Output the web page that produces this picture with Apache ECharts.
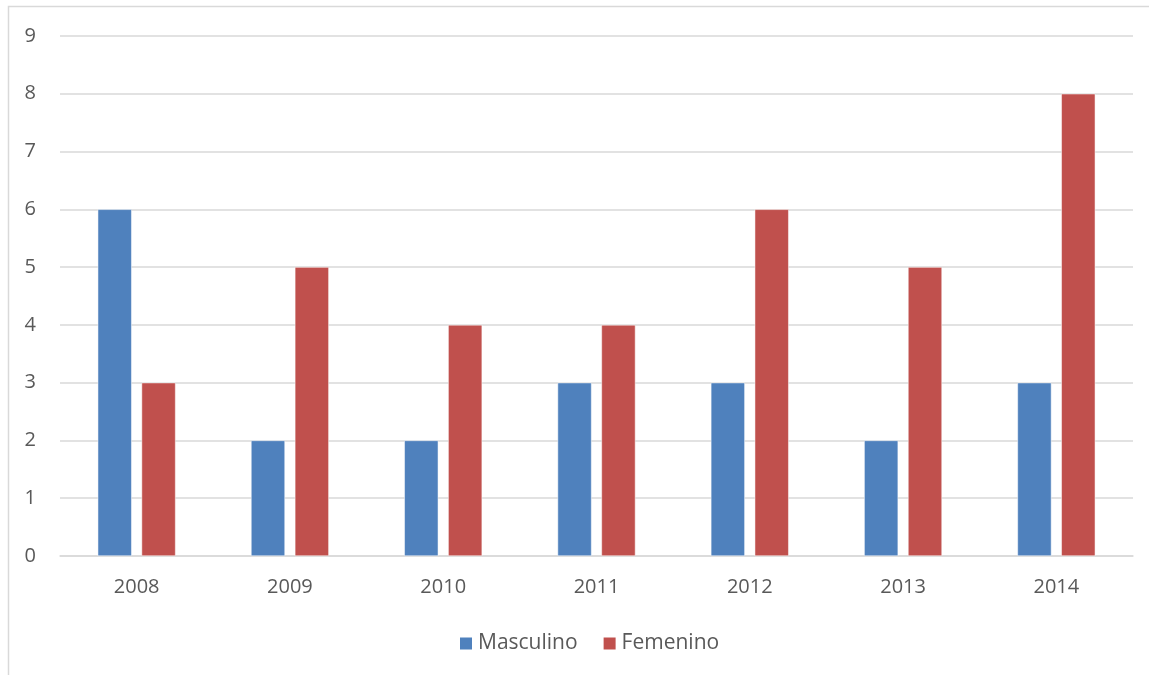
<!DOCTYPE html>
<html>
<head>
<meta charset="utf-8">
<script src="https://cdn.jsdelivr.net/npm/echarts@6/dist/echarts.min.js"></script>
<style>html,body{margin:0;padding:0;background:#fff;}#c{width:1149px;height:675px;}</style>
</head>
<body>
<div id="c"></div>
<script>
const categories = ['2008','2009','2010','2011','2012','2013','2014'];
const masculino = [6,2,2,3,3,2,3];
const femenino = [3,5,4,4,6,5,8];
const yTicks = {min:0, max:9, interval:1};

const chart = echarts.init(document.getElementById('c'));
const font = '"Open Sans", "Liberation Sans", sans-serif';
chart.setOption({
  animation:false,
  backgroundColor:'#fff',
  graphic:[{type:'rect',shape:{x:8.5,y:6.5,width:1200,height:700},style:{fill:'none',stroke:'#D9D9D9',lineWidth:1.5},silent:true}],
  grid:{left:60,right:16,top:36,bottom:119,containLabel:false},
  legend:{top:628,left:453,itemWidth:14,itemHeight:14,itemGap:24,icon:'rect',
    textStyle:{color:'#595959',fontSize:21,fontFamily:font},data:['Masculino','Femenino']},
  xAxis:{type:'category',data:categories,
    axisLine:{lineStyle:{color:'#D9D9D9',width:1.5}},axisTick:{show:false},
    axisLabel:{color:'#595959',fontSize:20,fontFamily:font,margin:21}},
  yAxis:{type:'value',min:yTicks.min,max:yTicks.max,interval:yTicks.interval,
    axisLine:{show:false},axisTick:{show:false},
    splitLine:{lineStyle:{color:'#D9D9D9',width:1.5}},
    axisLabel:{color:'#595959',fontSize:20,fontFamily:font,margin:24}},
  series:[
    {name:'Masculino',type:'bar',data:masculino,barWidth:34,barGap:'29%',
     itemStyle:{color:'#4F81BD',borderColor:'#ffffff',borderWidth:0.5}},
    {name:'Femenino',type:'bar',data:femenino,barWidth:34,
     itemStyle:{color:'#C0504D',borderColor:'#ffffff',borderWidth:0.5}}
  ]
});
</script>
</body>
</html>
